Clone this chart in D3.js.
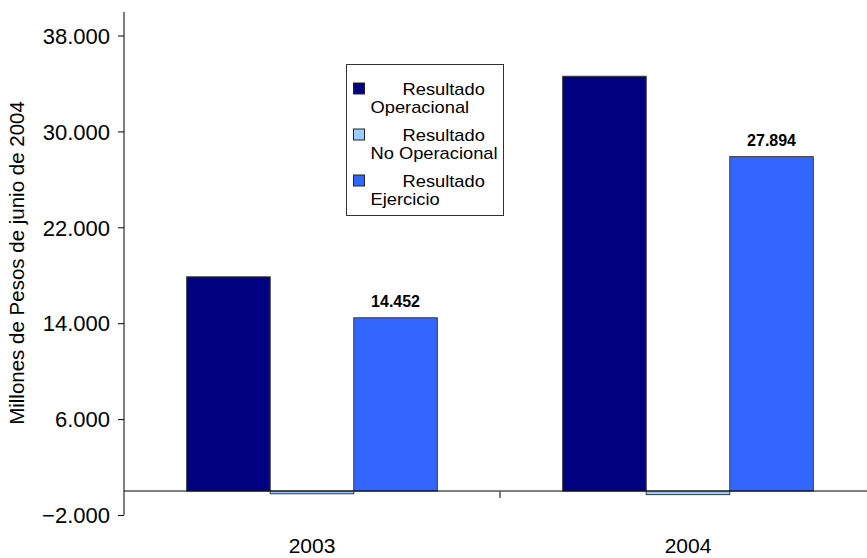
<!DOCTYPE html>
<html>
<head>
<meta charset="utf-8">
<script src="https://cdn.jsdelivr.net/npm/d3@7"></script>
<style>
  html, body { margin: 0; padding: 0; background: #fff; }
  svg { display: block; font-family: "Liberation Sans", Arial, sans-serif; }
</style>
</head>
<body>
<svg id="chart" width="867" height="558"></svg>
<script>
// Categories (years) and series
const years = ["2003", "2004"];
const seriesNames = ["Resultado Operacional", "Resultado No Operacional", "Resultado Ejercicio"];
const legendLines = [["Resultado", "Operacional"], ["Resultado", "No Operacional"], ["Resultado", "Ejercicio"]];
const seriesColors = ["#000080", "#99CCFF", "#3366FF"];

// Values in millions of pesos (junio 2004)
const operacional = [17870, 34600];
const noOperacional = [-230, -300];
const ejercicio = [14452, 27894];

// Only the Ejercicio series carries value labels
const labelledSeries = [false, false, true];

const yTicks = [-2000, 6000, 14000, 22000, 30000, 38000];
const yTitle = "Millones de Pesos de junio de 2004";

const seriesValues = [operacional, noOperacional, ejercicio];

const svg = d3.select("#chart");
const plot = { left: 124, right: 876, top: 12, bottom: 515 };

const locale = d3.formatLocale({ decimal: ",", thousands: ".", grouping: [3], currency: ["$", ""] });
const fmt = locale.format(",.0f");

const y = d3.scaleLinear().domain([-2000, 38000]).range([515, 35.5]);
const x0 = d3.scaleBand().domain(years).range([plot.left, plot.right]).padding(0);
const bw = x0.bandwidth();
const x1 = d3.scaleBand().domain(seriesNames).range([bw / 6, bw * 5 / 6]).padding(0);

// Bars
const groups = svg.append("g").selectAll("g")
  .data(years)
  .join("g")
  .attr("transform", d => `translate(${x0(d)},0)`);

groups.each(function (year, yi) {
  const g = d3.select(this);
  seriesNames.forEach((s, si) => {
    const v = seriesValues[si][yi];
    g.append("rect")
      .attr("x", x1(s))
      .attr("width", x1.bandwidth())
      .attr("y", y(Math.max(0, v)))
      .attr("height", Math.abs(y(v) - y(0)))
      .attr("fill", seriesColors[si])
      .attr("stroke", "#3a3a3a")
      .attr("stroke-width", 1);
    if (labelledSeries[si]) {
      g.append("text")
        .attr("x", x1(s) + x1.bandwidth() / 2)
        .attr("y", y(v) - 11)
        .attr("text-anchor", "middle")
        .attr("font-size", 16)
        .attr("font-weight", "bold")
        .attr("fill", "#000")
        .text(fmt(v));
    }
  });
});

// Y axis
const yAxis = d3.axisLeft(y).tickValues(yTicks).tickFormat(fmt).tickSize(6).tickPadding(8);
const yg = svg.append("g").attr("transform", `translate(${plot.left},0)`).call(yAxis);
yg.select(".domain").remove();
yg.selectAll(".tick line").attr("stroke", "#000");
yg.selectAll(".tick text").attr("font-size", 22).attr("fill", "#000")
  .attr("font-family", "'Liberation Sans', Arial, sans-serif").attr("dy", "0.35em");
svg.append("line")
  .attr("x1", plot.left).attr("x2", plot.left)
  .attr("y1", plot.top).attr("y2", plot.bottom)
  .attr("stroke", "#000").attr("stroke-width", 1);

// Zero baseline with category divider ticks
svg.append("line")
  .attr("x1", plot.left).attr("x2", plot.right)
  .attr("y1", y(0)).attr("y2", y(0))
  .attr("stroke", "#000").attr("stroke-width", 1);
svg.append("g").selectAll("line")
  .data(years.slice(1))
  .join("line")
  .attr("x1", d => x0(d)).attr("x2", d => x0(d))
  .attr("y1", y(0)).attr("y2", y(0) + 7)
  .attr("stroke", "#555").attr("stroke-width", 1.5);

// Category labels
svg.append("g").selectAll("text")
  .data(years)
  .join("text")
  .attr("x", d => x0(d) + bw / 2)
  .attr("y", 553)
  .attr("text-anchor", "middle")
  .attr("font-size", 21)
  .attr("fill", "#000")
  .text(d => d);

// Y axis title
svg.append("text")
  .attr("transform", `translate(24,263) rotate(-90)`)
  .attr("text-anchor", "middle")
  .attr("font-size", 20.5)
  .attr("fill", "#000")
  .text(yTitle);

// Legend: compact line boxes, glyphs widened to the nominal 18.3px width
const legendFont = 16.4;
const widthFactor = 18.3 / legendFont;
const lineGap = 18.6;
const legend = svg.append("g");
legend.append("rect")
  .attr("x", 346.5).attr("y", 64.5)
  .attr("width", 157).attr("height", 151)
  .attr("fill", "#fff").attr("stroke", "#333").attr("stroke-width", 1);

function legendText(x, yPos, str) {
  const t = legend.append("text")
    .attr("x", x).attr("y", yPos)
    .attr("font-size", legendFont).attr("fill", "#000")
    .text(str);
  const w = t.node().getComputedTextLength();
  t.attr("textLength", w * widthFactor).attr("lengthAdjust", "spacingAndGlyphs");
}

seriesNames.forEach((s, i) => {
  const top = 83 + i * 46;
  legend.append("rect")
    .attr("x", 353.5).attr("y", top)
    .attr("width", 11).attr("height", 11)
    .attr("fill", seriesColors[i]).attr("stroke", "#222").attr("stroke-width", 1);
  legendText(402.5, top + 11.5, legendLines[i][0]);
  legendText(370.5, top + 11.5 + lineGap, legendLines[i][1]);
});
</script>
</body>
</html>
